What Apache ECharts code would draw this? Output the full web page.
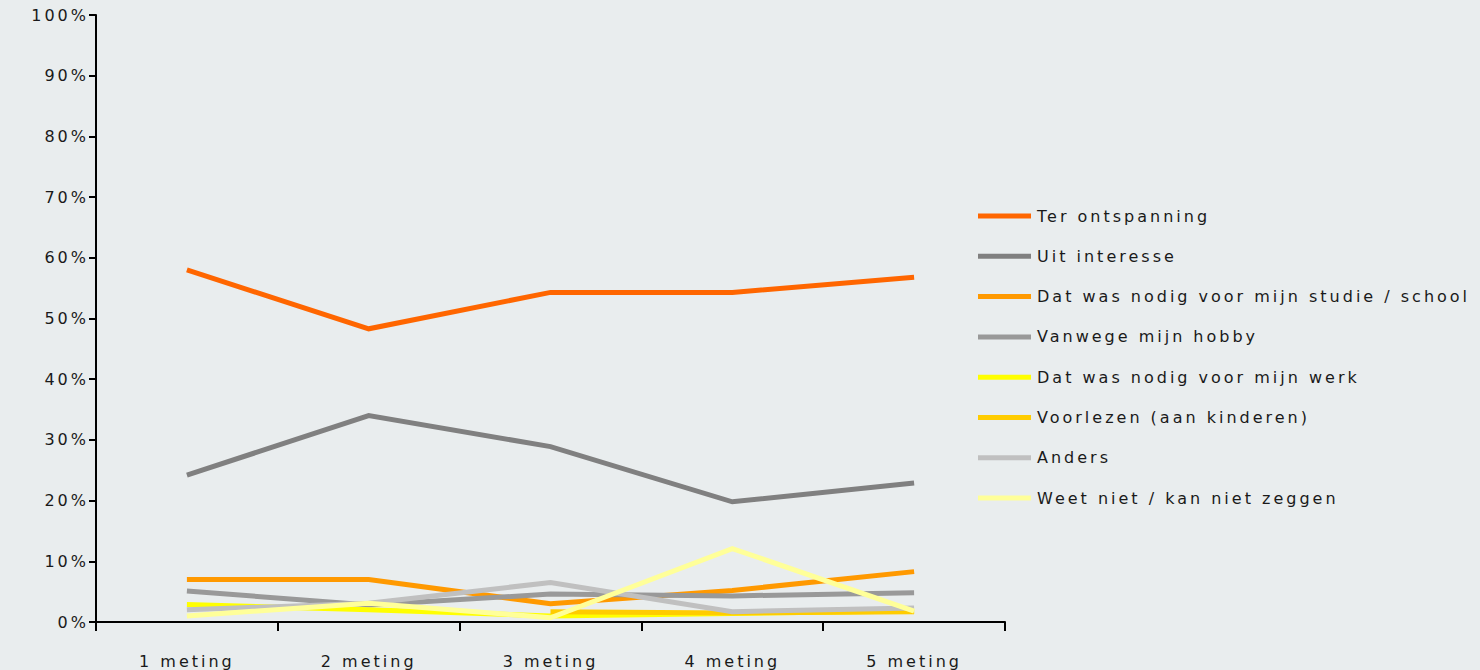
<!DOCTYPE html>
<html>
<head>
<meta charset="utf-8">
<script src="https://cdn.jsdelivr.net/npm/echarts@6/dist/echarts.min.js"></script>
<style>
  html, body { margin: 0; padding: 0; background: #E9EDEE; }
  #chart { width: 1480px; height: 670px; letter-spacing: 3px; }
</style>
</head>
<body>
<div id="chart"></div>
<script>
// Measurement moments
const categories = ['1 meting', '2 meting', '3 meting', '4 meting', '5 meting'];

// Reasons (percentages per measurement)
const terOntspanning = [58.0, 48.3, 54.3, 54.3, 56.8];
const uitInteresse   = [24.2, 34.0, 28.9, 19.8, 22.9];
const studieSchool   = [7.0, 7.0, 3.0, 5.2, 8.3];
const hobby          = [5.1, 2.8, 4.6, 4.3, 4.8];
const werk           = [2.9, 2.0, 1.0, 1.4, 1.8];
const voorlezen      = [null, null, 1.7, 1.5, 1.7];
const anders         = [2.0, 3.1, 6.5, 1.7, 2.3];
const weetNiet       = [1.0, 3.1, 0.7, 12.1, 1.8];

const seriesNames = [
  'Ter ontspanning',
  'Uit interesse',
  'Dat was nodig voor mijn studie / school',
  'Vanwege mijn hobby',
  'Dat was nodig voor mijn werk',
  'Voorlezen (aan kinderen)',
  'Anders',
  'Weet niet / kan niet zeggen'
];
const seriesData = [terOntspanning, uitInteresse, studieSchool, hobby, werk, voorlezen, anders, weetNiet];
const seriesColors = ['#FF6600', '#808080', '#FF9900', '#999999', '#FFFF00', '#FFCC00', '#C0C0C0', '#FFFF99'];

const yTicks = { min: 0, max: 100, interval: 10 };

const textColor = '#1a1a1a';
const fontFamily = '"DejaVu Sans", Verdana, sans-serif';

const chart = echarts.init(document.getElementById('chart'), null, { renderer: 'svg' });

chart.setOption({
  animation: false,
  backgroundColor: '#E9EDEE',
  grid: { left: 96, right: 475, top: 15, bottom: 48, containLabel: false },
  legend: {
    orient: 'vertical',
    left: 978,
    top: 208,
    padding: 0,
    icon: 'rect',
    itemWidth: 53,
    itemHeight: 5,
    itemGap: 24.3,
    data: seriesNames,
    textStyle: { color: textColor, fontSize: 16, fontFamily: fontFamily, padding: [0, 0, 0, 1] }
  },
  xAxis: {
    type: 'category',
    data: categories,
    boundaryGap: true,
    axisLine: { lineStyle: { color: '#000', width: 2 } },
    axisTick: { show: true, length: 9, lineStyle: { color: '#000', width: 2 } },
    axisLabel: { color: textColor, fontSize: 16, fontFamily: fontFamily, margin: 31 },
    splitLine: { show: false }
  },
  yAxis: {
    type: 'value',
    min: yTicks.min,
    max: yTicks.max,
    interval: yTicks.interval,
    axisLine: { show: true, lineStyle: { color: '#000', width: 2 } },
    axisTick: { show: true, length: 7, lineStyle: { color: '#000', width: 2 } },
    axisLabel: { color: textColor, fontSize: 16, fontFamily: fontFamily, margin: 7, formatter: '{value}%' },
    splitLine: { show: false }
  },
  series: seriesNames.map((name, i) => ({
    name: name,
    type: 'line',
    data: seriesData[i],
    showSymbol: false,
    symbol: 'none',
    connectNulls: false,
    color: seriesColors[i],
    lineStyle: { color: seriesColors[i], width: 5, cap: 'butt', join: 'miter' },
    emphasis: { disabled: true }
  }))
});
</script>
</body>
</html>
